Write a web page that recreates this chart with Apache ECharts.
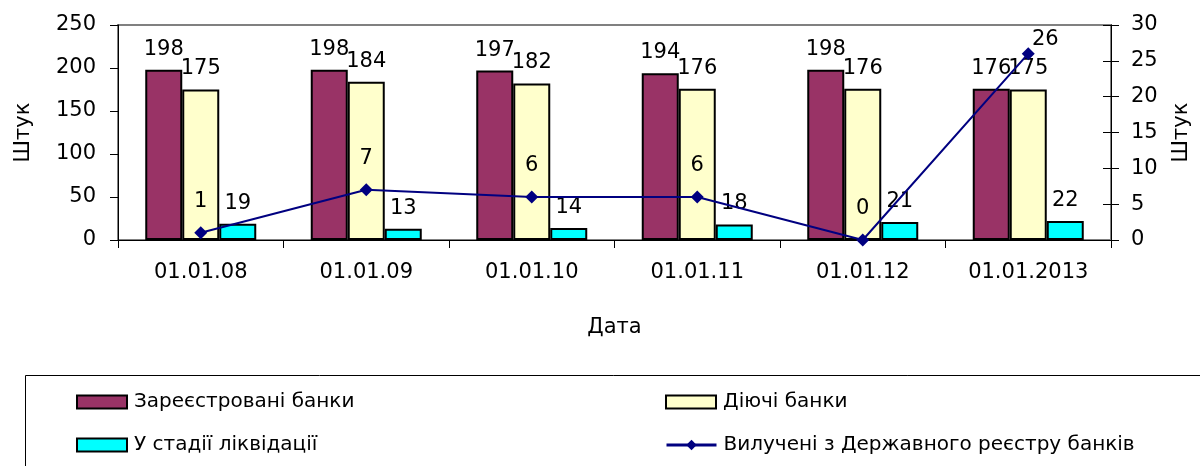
<!DOCTYPE html>
<html>
<head>
<meta charset="utf-8">
<script src="https://cdn.jsdelivr.net/npm/echarts@6/dist/echarts.min.js"></script>
<style>
  html, body { margin: 0; padding: 0; background: #fff; }
  #chart { width: 1200px; height: 466px; }
</style>
</head>
<body>
<div id="chart"></div>
<script>
// Dates of the yearly snapshots
const categories = ['01.01.08', '01.01.09', '01.01.10', '01.01.11', '01.01.12', '01.01.2013'];

// Bank counts (left axis)
const registeredBanks = [198, 198, 197, 194, 198, 176];
const activeBanks = [175, 184, 182, 176, 176, 175];
const liquidationBanks = [19, 13, 14, 18, 21, 22];

// Banks removed from the State register (right axis)
const removedBanks = [1, 7, 6, 6, 0, 26];

// Series names
const seriesNames = [
  'Зареєстровані банки',
  'Діючі банки',
  'У стадії ліквідації',
  'Вилучені з Державного реєстру банків'
];

const FONT = 'DejaVu Sans';
const textBase = { fontFamily: FONT, fontSize: 21, color: '#000' };

const chart = echarts.init(document.getElementById('chart'), null, { renderer: 'canvas' });

function barSeries(name, data, color) {
  return {
    name: name,
    type: 'bar',
    data: data,
    yAxisIndex: 0,
    barWidth: 37,
    barGap: '0%',
    itemStyle: { color: color, borderColor: '#000', borderWidth: 2 },
    label: {
      show: true,
      position: 'top',
      distance: 10,
      ...textBase
    }
  };
}

function legendAt(name, left, top) {
  const isLine = name === seriesNames[3];
  const cfg = {
    data: [name],
    left: left,
    top: top,
    itemWidth: 50,
    itemHeight: 13,
    itemGap: 0,
    padding: 0,
    selectedMode: false,
    textStyle: { fontFamily: FONT, fontSize: 20, color: '#000', padding: [0, 0, 0, 2] }
  };
  if (isLine) {
    cfg.lineStyle = { width: 3 };
  } else {
    cfg.icon = 'rect';
  }
  return cfg;
}

// the last point's value label sits up and to the right of its marker
const lastIdx = removedBanks.length - 1;
const removedData = removedBanks.map((v, i) =>
  i === lastIdx ? { value: v, label: { offset: [17, 17] } } : v
);

chart.setOption({
  animation: false,
  backgroundColor: '#fff',
  grid: {
    left: 118,
    right: 86,
    top: 25,
    bottom: 226,
    show: true,
    borderColor: '#808080',
    borderWidth: 2,
    backgroundColor: 'transparent'
  },
  legend: [
    legendAt(seriesNames[0], 76, 392),
    legendAt(seriesNames[1], 665, 392),
    legendAt(seriesNames[2], 76, 435),
    legendAt(seriesNames[3], 665, 435)
  ],
  graphic: [{
    type: 'rect',
    shape: { x: 25.5, y: 375.5, width: 1200, height: 120 },
    style: { fill: 'none', stroke: '#000', lineWidth: 1 },
    z: -1
  }],
  xAxis: {
    type: 'category',
    data: categories,
    name: 'Дата',
    nameLocation: 'middle',
    nameGap: 77,
    nameTextStyle: { ...textBase },
    axisLine: { lineStyle: { color: '#000', width: 1 } },
    axisTick: { show: true, length: 8, lineStyle: { color: '#000' } },
    axisLabel: { ...textBase, margin: 22 },
    splitLine: { show: false }
  },
  yAxis: [
    {
      type: 'value',
      position: 'left',
      min: 0,
      max: 250,
      interval: 50,
      name: 'Штук',
      nameLocation: 'middle',
      nameGap: 84,
      nameRotate: 90,
      nameTextStyle: { ...textBase },
      axisLine: { show: true, lineStyle: { color: '#000', width: 1 } },
      axisTick: { show: true, length: 8, lineStyle: { color: '#000' } },
      axisLabel: { ...textBase, margin: 22 },
      splitLine: { show: false }
    },
    {
      type: 'value',
      position: 'right',
      min: 0,
      max: 30,
      interval: 5,
      name: 'Штук',
      nameLocation: 'middle',
      nameGap: 60,
      nameRotate: 90,
      nameTextStyle: { ...textBase },
      axisLine: { show: true, lineStyle: { color: '#000', width: 1 } },
      axisTick: { show: true, length: 8, lineStyle: { color: '#000' } },
      axisLabel: { ...textBase, margin: 20 },
      splitLine: { show: false }
    },
    {
      // inner half of the crossing ticks on the right axis
      type: 'value',
      position: 'right',
      min: 0,
      max: 30,
      interval: 5,
      axisLine: { show: false },
      axisTick: { show: true, inside: true, length: 8, lineStyle: { color: '#000' } },
      axisLabel: { show: false },
      splitLine: { show: false }
    }
  ],
  series: [
    barSeries(seriesNames[0], registeredBanks, '#993366'),
    barSeries(seriesNames[1], activeBanks, '#FFFFCC'),
    barSeries(seriesNames[2], liquidationBanks, '#00FFFF'),
    {
      name: seriesNames[3],
      type: 'line',
      data: removedData,
      yAxisIndex: 1,
      symbol: 'diamond',
      symbolSize: 13,
      lineStyle: { color: '#000080', width: 2 },
      itemStyle: { color: '#000080' },
      label: {
        show: true,
        position: 'top',
        distance: 14,
        ...textBase
      },
      z: 5
    }
  ]
});
</script>
</body>
</html>
